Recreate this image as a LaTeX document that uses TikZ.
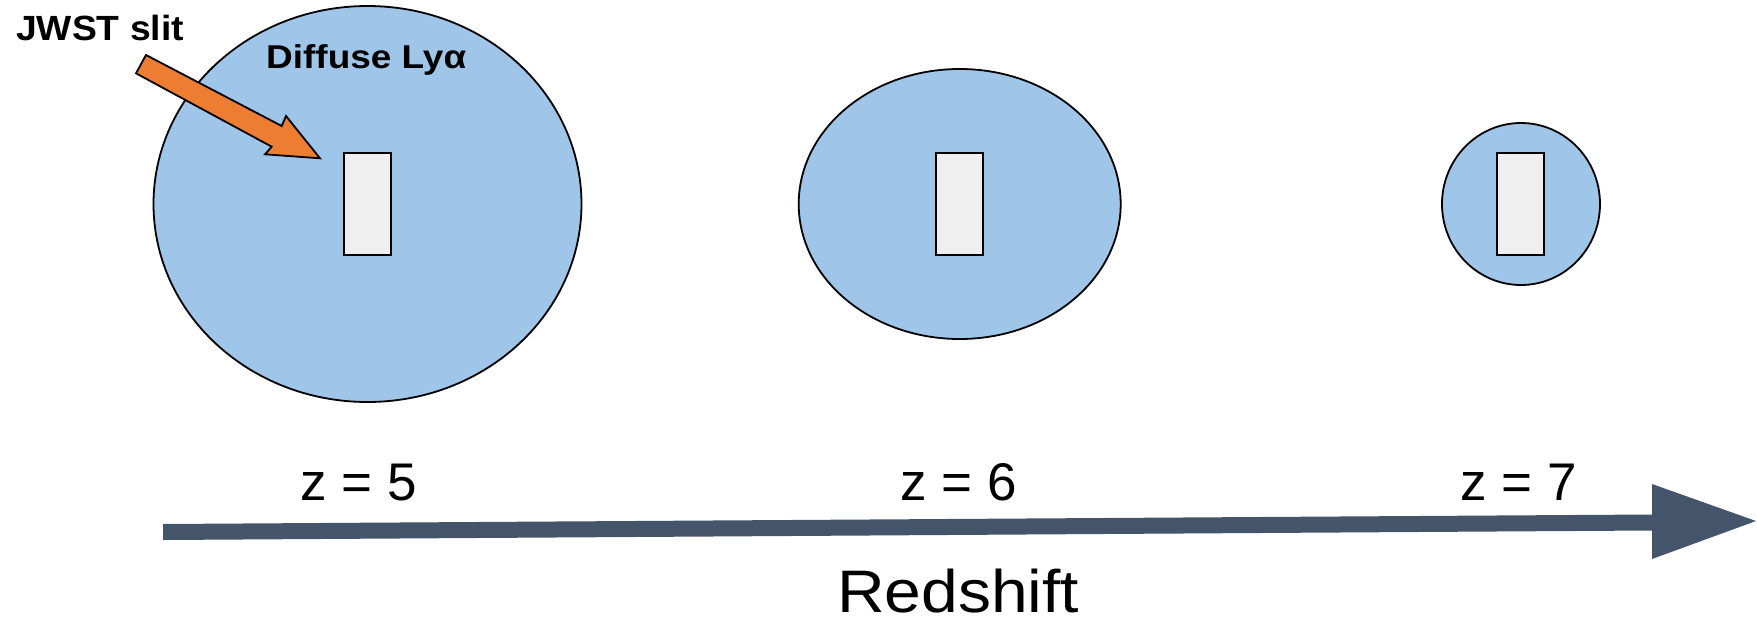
\documentclass[tikz,border=0pt]{standalone}
\usepackage{fontspec}
\setmainfont{Liberation Sans}
\usetikzlibrary{shapes.geometric}
\definecolor{lyablue}{HTML}{9FC5E8}
\definecolor{slitgray}{HTML}{EFEFEF}
\definecolor{jwstorange}{HTML}{ED7D31}
\definecolor{axisgray}{HTML}{44546A}
\tikzset{
  halo/.style={ellipse, draw=black, fill=lyablue, line width=1.8pt, inner sep=0pt},
  slitbox/.style={rectangle, draw=black, fill=slitgray, line width=1.8pt, inner sep=0pt, minimum width=47pt, minimum height=102pt},
  zlabel/.style={anchor=base west, inner sep=0pt, font=\fontsize{53}{60}\selectfont},
  boldlabel/.style={anchor=base west, inner sep=0pt, font=\bfseries\fontsize{35}{40}\selectfont}
}
\begin{document}
\begin{tikzpicture}[x=1pt,y=-1pt]
\useasboundingbox (0,0) rectangle (1757,622);
% halos
\node[halo, minimum width=428pt, minimum height=396pt] (h5) at (367.5,204) {};
\node[halo, minimum width=322pt, minimum height=270pt] (h6) at (959.7,204) {};
\node[halo, minimum width=158pt, minimum height=162pt] (h7) at (1521,204) {};
% slits
\node[slitbox] (s5) at (367.5,204) {};
\node[slitbox] (s6) at (959.7,204) {};
\node[slitbox] (s7) at (1520.5,204) {};
% JWST slit arrow
\draw[fill=jwstorange, line width=1.8pt, line join=miter]
  (146,55) -- (281.7,126) -- (286,116) -- (320,158.3) -- (265,154.3) -- (271.7,146.7) -- (136,73.3) -- cycle;
% labels
\node[boldlabel, xscale=1.065, transform shape] (jw) at (16,40) {JWST slit};
\node[boldlabel, font=\bfseries\fontsize{33}{38}\selectfont, xscale=1.12, transform shape] (dl) at (266,68) {Diffuse Lyα};
\node[zlabel] (z5) at (300,500.5) {z = 5};
\node[zlabel] (z6) at (900,500) {z = 6};
\node[zlabel] (z7) at (1460,500) {z = 7};
% redshift axis
\fill[axisgray] (163,524) -- (1652,514.5) -- (1652,484) -- (1756,521) -- (1652,559) -- (1652,530.5) -- (163,540) -- cycle;
\node[anchor=base west, inner sep=0pt, font=\fontsize{60}{66}\selectfont, xscale=1.1, transform shape] (rs) at (837,612) {Redshift};
\end{tikzpicture}
\end{document}
